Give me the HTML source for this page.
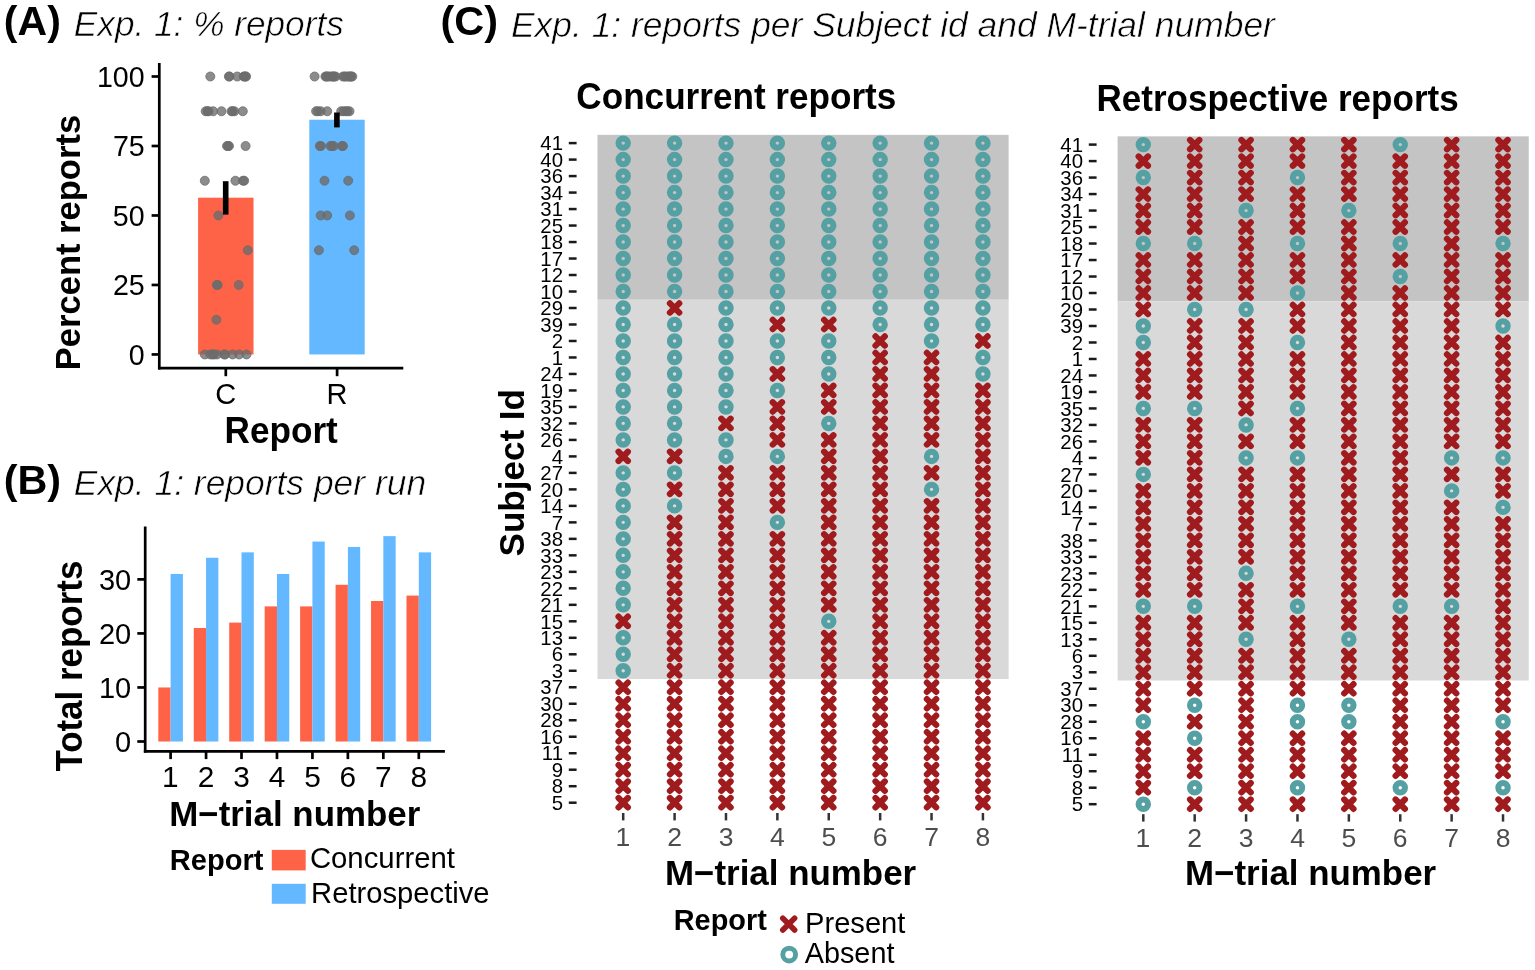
<!DOCTYPE html>
<html><head><meta charset="utf-8"><title>Exp. 1 reports</title>
<style>
html,body{margin:0;padding:0;background:#fff;}
body{width:1535px;height:970px;overflow:hidden;}
svg{display:block;}
text{font-family:"Liberation Sans", Arial, Helvetica, sans-serif;}
</style></head>
<body>
<svg width="1535" height="970" viewBox="0 0 1535 970">
<rect width="1535" height="970" fill="#fff"/>
<text x="3.86" y="35.10" font-size="41" font-weight="bold" textLength="56.99" lengthAdjust="spacingAndGlyphs">(A)</text>
<text x="73.82" y="36.00" font-size="35.6" font-style="italic" textLength="270.00" lengthAdjust="spacingAndGlyphs" stroke="#fff" stroke-width="0.6">Exp. 1: % reports</text>
<rect x="198.10" y="197.69" width="55.40" height="156.76" fill="#FF6347"/>
<rect x="309.30" y="119.72" width="55.40" height="234.73" fill="#63B8FF"/>
<g fill="#6b6b6b" fill-opacity="0.78" stroke="#6b6b6b" stroke-opacity="0.78" stroke-width="1">
<circle cx="204.8" cy="354.45" r="4.5"/>
<circle cx="210.3" cy="354.45" r="4.5"/>
<circle cx="212.5" cy="354.45" r="4.5"/>
<circle cx="214.0" cy="354.45" r="4.5"/>
<circle cx="224.2" cy="354.45" r="4.5"/>
<circle cx="225.2" cy="354.45" r="4.5"/>
<circle cx="232.6" cy="354.45" r="4.5"/>
<circle cx="239.1" cy="354.45" r="4.5"/>
<circle cx="246.5" cy="354.45" r="4.5"/>
<circle cx="217.0" cy="354.45" r="4.5"/>
<circle cx="216.4" cy="319.71" r="4.5"/>
<circle cx="216.8" cy="284.96" r="4.5"/>
<circle cx="217.7" cy="284.96" r="4.5"/>
<circle cx="238.7" cy="284.96" r="4.5"/>
<circle cx="247.8" cy="250.22" r="4.5"/>
<circle cx="218.3" cy="215.47" r="4.5"/>
<circle cx="204.8" cy="180.73" r="4.5"/>
<circle cx="235.4" cy="180.73" r="4.5"/>
<circle cx="243.0" cy="180.73" r="4.5"/>
<circle cx="244.2" cy="180.73" r="4.5"/>
<circle cx="227.0" cy="145.99" r="4.5"/>
<circle cx="229.0" cy="145.99" r="4.5"/>
<circle cx="245.6" cy="145.99" r="4.5"/>
<circle cx="228.0" cy="145.99" r="4.5"/>
<circle cx="205.7" cy="111.24" r="4.5"/>
<circle cx="207.5" cy="111.24" r="4.5"/>
<circle cx="213.1" cy="111.24" r="4.5"/>
<circle cx="221.5" cy="111.24" r="4.5"/>
<circle cx="232.6" cy="111.24" r="4.5"/>
<circle cx="234.4" cy="111.24" r="4.5"/>
<circle cx="242.8" cy="111.24" r="4.5"/>
<circle cx="231.5" cy="111.24" r="4.5"/>
<circle cx="208.5" cy="111.24" r="4.5"/>
<circle cx="210.3" cy="76.50" r="4.5"/>
<circle cx="228.9" cy="76.50" r="4.5"/>
<circle cx="237.2" cy="76.50" r="4.5"/>
<circle cx="243.7" cy="76.50" r="4.5"/>
<circle cx="245.6" cy="76.50" r="4.5"/>
<circle cx="244.5" cy="76.50" r="4.5"/>
<circle cx="229.5" cy="76.50" r="4.5"/>
<circle cx="246.0" cy="76.50" r="4.5"/>
<circle cx="314.6" cy="76.50" r="4.5"/>
<circle cx="325.4" cy="76.50" r="4.5"/>
<circle cx="327.0" cy="76.50" r="4.5"/>
<circle cx="332.8" cy="76.50" r="4.5"/>
<circle cx="335.6" cy="76.50" r="4.5"/>
<circle cx="343.0" cy="76.50" r="4.5"/>
<circle cx="349.5" cy="76.50" r="4.5"/>
<circle cx="352.3" cy="76.50" r="4.5"/>
<circle cx="326.5" cy="76.50" r="4.5"/>
<circle cx="331.0" cy="76.50" r="4.5"/>
<circle cx="334.0" cy="76.50" r="4.5"/>
<circle cx="344.5" cy="76.50" r="4.5"/>
<circle cx="348.0" cy="76.50" r="4.5"/>
<circle cx="350.5" cy="76.50" r="4.5"/>
<circle cx="329.0" cy="76.50" r="4.5"/>
<circle cx="333.5" cy="76.50" r="4.5"/>
<circle cx="346.0" cy="76.50" r="4.5"/>
<circle cx="351.0" cy="76.50" r="4.5"/>
<circle cx="316.1" cy="111.24" r="4.5"/>
<circle cx="320.7" cy="111.24" r="4.5"/>
<circle cx="327.2" cy="111.24" r="4.5"/>
<circle cx="341.2" cy="111.24" r="4.5"/>
<circle cx="345.8" cy="111.24" r="4.5"/>
<circle cx="349.5" cy="111.24" r="4.5"/>
<circle cx="318.0" cy="111.24" r="4.5"/>
<circle cx="343.5" cy="111.24" r="4.5"/>
<circle cx="347.5" cy="111.24" r="4.5"/>
<circle cx="319.8" cy="145.99" r="4.5"/>
<circle cx="331.9" cy="145.99" r="4.5"/>
<circle cx="333.7" cy="145.99" r="4.5"/>
<circle cx="343.0" cy="145.99" r="4.5"/>
<circle cx="321.0" cy="145.99" r="4.5"/>
<circle cx="330.5" cy="145.99" r="4.5"/>
<circle cx="342.0" cy="145.99" r="4.5"/>
<circle cx="324.5" cy="180.73" r="4.5"/>
<circle cx="348.2" cy="180.73" r="4.5"/>
<circle cx="320.7" cy="215.47" r="4.5"/>
<circle cx="327.2" cy="215.47" r="4.5"/>
<circle cx="349.9" cy="215.47" r="4.5"/>
<circle cx="318.9" cy="250.22" r="4.5"/>
<circle cx="354.2" cy="250.22" r="4.5"/>
</g>
<rect x="222.90" y="181.20" width="5.60" height="33.40" fill="#000"/>
<rect x="334.10" y="112.50" width="5.60" height="14.90" fill="#000"/>
<line x1="159.30" y1="63.10" x2="159.30" y2="369.55" stroke="#000" stroke-width="2.7" stroke-linecap="butt"/>
<line x1="157.95" y1="368.20" x2="403.30" y2="368.20" stroke="#000" stroke-width="2.7" stroke-linecap="butt"/>
<line x1="151.60" y1="354.45" x2="159.30" y2="354.45" stroke="#000" stroke-width="2.7" stroke-linecap="butt"/>
<text x="128.71" y="364.95" font-size="28.6">0</text>
<line x1="151.60" y1="284.96" x2="159.30" y2="284.96" stroke="#000" stroke-width="2.7" stroke-linecap="butt"/>
<text x="112.89" y="295.46" font-size="28.6">25</text>
<line x1="151.60" y1="215.47" x2="159.30" y2="215.47" stroke="#000" stroke-width="2.7" stroke-linecap="butt"/>
<text x="112.81" y="225.97" font-size="28.6">50</text>
<line x1="151.60" y1="145.99" x2="159.30" y2="145.99" stroke="#000" stroke-width="2.7" stroke-linecap="butt"/>
<text x="112.89" y="156.49" font-size="28.6">75</text>
<line x1="151.60" y1="76.50" x2="159.30" y2="76.50" stroke="#000" stroke-width="2.7" stroke-linecap="butt"/>
<text x="96.90" y="87.00" font-size="28.6">100</text>
<line x1="225.80" y1="368.20" x2="225.80" y2="376.20" stroke="#000" stroke-width="2.7" stroke-linecap="butt"/>
<line x1="337.10" y1="368.20" x2="337.10" y2="376.20" stroke="#000" stroke-width="2.7" stroke-linecap="butt"/>
<text x="215.14" y="403.60" font-size="29">C</text>
<text x="326.46" y="403.60" font-size="29">R</text>
<text x="224.55" y="443.40" font-size="36.3" font-weight="bold" textLength="113.28" lengthAdjust="spacingAndGlyphs">Report</text>
<text x="80.40" y="370.21" font-size="35.8" font-weight="bold" textLength="255.33" lengthAdjust="spacingAndGlyphs" transform="rotate(-90 80.40 370.21)">Percent reports</text>
<text x="3.74" y="494.10" font-size="41.5" font-weight="bold" textLength="57.42" lengthAdjust="spacingAndGlyphs">(B)</text>
<text x="73.81" y="494.80" font-size="35.6" font-style="italic" textLength="352.30" lengthAdjust="spacingAndGlyphs" stroke="#fff" stroke-width="0.6">Exp. 1: reports per run</text>
<rect x="158.30" y="687.46" width="12.30" height="54.04" fill="#FF6347"/>
<rect x="170.60" y="573.98" width="12.30" height="167.52" fill="#63B8FF"/>
<rect x="193.76" y="628.02" width="12.30" height="113.48" fill="#FF6347"/>
<rect x="206.06" y="557.76" width="12.30" height="183.74" fill="#63B8FF"/>
<rect x="229.21" y="622.61" width="12.30" height="118.89" fill="#FF6347"/>
<rect x="241.51" y="552.36" width="12.30" height="189.14" fill="#63B8FF"/>
<rect x="264.67" y="606.40" width="12.30" height="135.10" fill="#FF6347"/>
<rect x="276.97" y="573.98" width="12.30" height="167.52" fill="#63B8FF"/>
<rect x="300.13" y="606.40" width="12.30" height="135.10" fill="#FF6347"/>
<rect x="312.43" y="541.55" width="12.30" height="199.95" fill="#63B8FF"/>
<rect x="335.58" y="584.78" width="12.30" height="156.72" fill="#FF6347"/>
<rect x="347.88" y="546.96" width="12.30" height="194.54" fill="#63B8FF"/>
<rect x="371.04" y="601.00" width="12.30" height="140.50" fill="#FF6347"/>
<rect x="383.34" y="536.15" width="12.30" height="205.35" fill="#63B8FF"/>
<rect x="406.50" y="595.59" width="12.30" height="145.91" fill="#FF6347"/>
<rect x="418.80" y="552.36" width="12.30" height="189.14" fill="#63B8FF"/>
<line x1="145.20" y1="526.50" x2="145.20" y2="752.65" stroke="#000" stroke-width="2.7" stroke-linecap="butt"/>
<line x1="143.85" y1="751.30" x2="444.90" y2="751.30" stroke="#000" stroke-width="2.7" stroke-linecap="butt"/>
<line x1="137.30" y1="741.50" x2="145.20" y2="741.50" stroke="#000" stroke-width="2.7" stroke-linecap="butt"/>
<text x="115.00" y="752.30" font-size="29">0</text>
<line x1="137.30" y1="687.46" x2="145.20" y2="687.46" stroke="#000" stroke-width="2.7" stroke-linecap="butt"/>
<text x="98.88" y="698.26" font-size="29">10</text>
<line x1="137.30" y1="633.42" x2="145.20" y2="633.42" stroke="#000" stroke-width="2.7" stroke-linecap="butt"/>
<text x="98.88" y="644.22" font-size="29">20</text>
<line x1="137.30" y1="579.38" x2="145.20" y2="579.38" stroke="#000" stroke-width="2.7" stroke-linecap="butt"/>
<text x="98.88" y="590.18" font-size="29">30</text>
<line x1="170.60" y1="751.30" x2="170.60" y2="759.10" stroke="#000" stroke-width="2.7" stroke-linecap="butt"/>
<text x="161.91" y="787.20" font-size="29.8">1</text>
<line x1="206.06" y1="751.30" x2="206.06" y2="759.10" stroke="#000" stroke-width="2.7" stroke-linecap="butt"/>
<text x="197.77" y="787.20" font-size="29.8">2</text>
<line x1="241.51" y1="751.30" x2="241.51" y2="759.10" stroke="#000" stroke-width="2.7" stroke-linecap="butt"/>
<text x="233.31" y="787.20" font-size="29.8">3</text>
<line x1="276.97" y1="751.30" x2="276.97" y2="759.10" stroke="#000" stroke-width="2.7" stroke-linecap="butt"/>
<text x="268.78" y="787.20" font-size="29.8">4</text>
<line x1="312.43" y1="751.30" x2="312.43" y2="759.10" stroke="#000" stroke-width="2.7" stroke-linecap="butt"/>
<text x="304.17" y="787.20" font-size="29.8">5</text>
<line x1="347.88" y1="751.30" x2="347.88" y2="759.10" stroke="#000" stroke-width="2.7" stroke-linecap="butt"/>
<text x="339.50" y="787.20" font-size="29.8">6</text>
<line x1="383.34" y1="751.30" x2="383.34" y2="759.10" stroke="#000" stroke-width="2.7" stroke-linecap="butt"/>
<text x="375.04" y="787.20" font-size="29.8">7</text>
<line x1="418.80" y1="751.30" x2="418.80" y2="759.10" stroke="#000" stroke-width="2.7" stroke-linecap="butt"/>
<text x="410.51" y="787.20" font-size="29.8">8</text>
<text x="169.27" y="826.00" font-size="35.6" font-weight="bold" textLength="250.96" lengthAdjust="spacingAndGlyphs">M−trial number</text>
<text x="82.50" y="771.59" font-size="36" font-weight="bold" textLength="210.90" lengthAdjust="spacingAndGlyphs" transform="rotate(-90 82.50 771.59)">Total reports</text>
<text x="169.86" y="870.20" font-size="30.3" font-weight="bold" textLength="93.50" lengthAdjust="spacingAndGlyphs">Report</text>
<rect x="271.80" y="849.90" width="33.90" height="20.50" fill="#FF6347"/>
<rect x="271.80" y="883.80" width="33.90" height="20.00" fill="#63B8FF"/>
<text x="309.91" y="867.80" font-size="29" textLength="145.00" lengthAdjust="spacingAndGlyphs">Concurrent</text>
<text x="311.11" y="903.30" font-size="29" textLength="178.49" lengthAdjust="spacingAndGlyphs">Retrospective</text>
<text x="440.44" y="35.10" font-size="41" font-weight="bold" textLength="57.53" lengthAdjust="spacingAndGlyphs">(C)</text>
<text x="510.91" y="36.60" font-size="35.6" font-style="italic" textLength="764.00" lengthAdjust="spacingAndGlyphs" stroke="#fff" stroke-width="0.6">Exp. 1: reports per Subject id and M-trial number</text>
<text x="576.36" y="109.40" font-size="36.4" font-weight="bold" textLength="319.98" lengthAdjust="spacingAndGlyphs">Concurrent reports</text>
<text x="1096.46" y="111.10" font-size="36.4" font-weight="bold" textLength="362.28" lengthAdjust="spacingAndGlyphs">Retrospective reports</text>
<defs><g id="mx"><path d="M-4.65,-4.65L4.65,4.65M-4.65,4.65L4.65,-4.65" stroke="#a01b1e" stroke-width="6.2" stroke-linecap="round" fill="none"/></g><g id="mo"><circle r="4.7" fill="none" stroke="#55a0a2" stroke-width="6.05"/></g></defs>
<rect x="597.50" y="134.85" width="411.12" height="164.90" fill="#c4c4c4"/>
<rect x="597.50" y="299.75" width="411.12" height="379.27" fill="#d9d9d9"/>
<use href="#mo" x="623.20" y="143.10"/>
<use href="#mo" x="674.59" y="143.10"/>
<use href="#mo" x="725.98" y="143.10"/>
<use href="#mo" x="777.37" y="143.10"/>
<use href="#mo" x="828.76" y="143.10"/>
<use href="#mo" x="880.15" y="143.10"/>
<use href="#mo" x="931.54" y="143.10"/>
<use href="#mo" x="982.93" y="143.10"/>
<text x="563.00" y="150.30" font-size="20.4" text-anchor="end">41</text>
<line x1="568.80" y1="143.10" x2="576.60" y2="143.10" stroke="#1a1a1a" stroke-width="2.5" stroke-linecap="butt"/>
<use href="#mo" x="623.20" y="159.59"/>
<use href="#mo" x="674.59" y="159.59"/>
<use href="#mo" x="725.98" y="159.59"/>
<use href="#mo" x="777.37" y="159.59"/>
<use href="#mo" x="828.76" y="159.59"/>
<use href="#mo" x="880.15" y="159.59"/>
<use href="#mo" x="931.54" y="159.59"/>
<use href="#mo" x="982.93" y="159.59"/>
<text x="563.00" y="166.79" font-size="20.4" text-anchor="end">40</text>
<line x1="568.80" y1="159.59" x2="576.60" y2="159.59" stroke="#1a1a1a" stroke-width="2.5" stroke-linecap="butt"/>
<use href="#mo" x="623.20" y="176.08"/>
<use href="#mo" x="674.59" y="176.08"/>
<use href="#mo" x="725.98" y="176.08"/>
<use href="#mo" x="777.37" y="176.08"/>
<use href="#mo" x="828.76" y="176.08"/>
<use href="#mo" x="880.15" y="176.08"/>
<use href="#mo" x="931.54" y="176.08"/>
<use href="#mo" x="982.93" y="176.08"/>
<text x="563.00" y="183.28" font-size="20.4" text-anchor="end">36</text>
<line x1="568.80" y1="176.08" x2="576.60" y2="176.08" stroke="#1a1a1a" stroke-width="2.5" stroke-linecap="butt"/>
<use href="#mo" x="623.20" y="192.57"/>
<use href="#mo" x="674.59" y="192.57"/>
<use href="#mo" x="725.98" y="192.57"/>
<use href="#mo" x="777.37" y="192.57"/>
<use href="#mo" x="828.76" y="192.57"/>
<use href="#mo" x="880.15" y="192.57"/>
<use href="#mo" x="931.54" y="192.57"/>
<use href="#mo" x="982.93" y="192.57"/>
<text x="563.00" y="199.77" font-size="20.4" text-anchor="end">34</text>
<line x1="568.80" y1="192.57" x2="576.60" y2="192.57" stroke="#1a1a1a" stroke-width="2.5" stroke-linecap="butt"/>
<use href="#mo" x="623.20" y="209.06"/>
<use href="#mo" x="674.59" y="209.06"/>
<use href="#mo" x="725.98" y="209.06"/>
<use href="#mo" x="777.37" y="209.06"/>
<use href="#mo" x="828.76" y="209.06"/>
<use href="#mo" x="880.15" y="209.06"/>
<use href="#mo" x="931.54" y="209.06"/>
<use href="#mo" x="982.93" y="209.06"/>
<text x="563.00" y="216.26" font-size="20.4" text-anchor="end">31</text>
<line x1="568.80" y1="209.06" x2="576.60" y2="209.06" stroke="#1a1a1a" stroke-width="2.5" stroke-linecap="butt"/>
<use href="#mo" x="623.20" y="225.55"/>
<use href="#mo" x="674.59" y="225.55"/>
<use href="#mo" x="725.98" y="225.55"/>
<use href="#mo" x="777.37" y="225.55"/>
<use href="#mo" x="828.76" y="225.55"/>
<use href="#mo" x="880.15" y="225.55"/>
<use href="#mo" x="931.54" y="225.55"/>
<use href="#mo" x="982.93" y="225.55"/>
<text x="563.00" y="232.75" font-size="20.4" text-anchor="end">25</text>
<line x1="568.80" y1="225.55" x2="576.60" y2="225.55" stroke="#1a1a1a" stroke-width="2.5" stroke-linecap="butt"/>
<use href="#mo" x="623.20" y="242.04"/>
<use href="#mo" x="674.59" y="242.04"/>
<use href="#mo" x="725.98" y="242.04"/>
<use href="#mo" x="777.37" y="242.04"/>
<use href="#mo" x="828.76" y="242.04"/>
<use href="#mo" x="880.15" y="242.04"/>
<use href="#mo" x="931.54" y="242.04"/>
<use href="#mo" x="982.93" y="242.04"/>
<text x="563.00" y="249.24" font-size="20.4" text-anchor="end">18</text>
<line x1="568.80" y1="242.04" x2="576.60" y2="242.04" stroke="#1a1a1a" stroke-width="2.5" stroke-linecap="butt"/>
<use href="#mo" x="623.20" y="258.53"/>
<use href="#mo" x="674.59" y="258.53"/>
<use href="#mo" x="725.98" y="258.53"/>
<use href="#mo" x="777.37" y="258.53"/>
<use href="#mo" x="828.76" y="258.53"/>
<use href="#mo" x="880.15" y="258.53"/>
<use href="#mo" x="931.54" y="258.53"/>
<use href="#mo" x="982.93" y="258.53"/>
<text x="563.00" y="265.73" font-size="20.4" text-anchor="end">17</text>
<line x1="568.80" y1="258.53" x2="576.60" y2="258.53" stroke="#1a1a1a" stroke-width="2.5" stroke-linecap="butt"/>
<use href="#mo" x="623.20" y="275.02"/>
<use href="#mo" x="674.59" y="275.02"/>
<use href="#mo" x="725.98" y="275.02"/>
<use href="#mo" x="777.37" y="275.02"/>
<use href="#mo" x="828.76" y="275.02"/>
<use href="#mo" x="880.15" y="275.02"/>
<use href="#mo" x="931.54" y="275.02"/>
<use href="#mo" x="982.93" y="275.02"/>
<text x="563.00" y="282.22" font-size="20.4" text-anchor="end">12</text>
<line x1="568.80" y1="275.02" x2="576.60" y2="275.02" stroke="#1a1a1a" stroke-width="2.5" stroke-linecap="butt"/>
<use href="#mo" x="623.20" y="291.51"/>
<use href="#mo" x="674.59" y="291.51"/>
<use href="#mo" x="725.98" y="291.51"/>
<use href="#mo" x="777.37" y="291.51"/>
<use href="#mo" x="828.76" y="291.51"/>
<use href="#mo" x="880.15" y="291.51"/>
<use href="#mo" x="931.54" y="291.51"/>
<use href="#mo" x="982.93" y="291.51"/>
<text x="563.00" y="298.71" font-size="20.4" text-anchor="end">10</text>
<line x1="568.80" y1="291.51" x2="576.60" y2="291.51" stroke="#1a1a1a" stroke-width="2.5" stroke-linecap="butt"/>
<use href="#mo" x="623.20" y="308.00"/>
<use href="#mx" x="674.59" y="308.00"/>
<use href="#mo" x="725.98" y="308.00"/>
<use href="#mo" x="777.37" y="308.00"/>
<use href="#mo" x="828.76" y="308.00"/>
<use href="#mo" x="880.15" y="308.00"/>
<use href="#mo" x="931.54" y="308.00"/>
<use href="#mo" x="982.93" y="308.00"/>
<text x="563.00" y="315.20" font-size="20.4" text-anchor="end">29</text>
<line x1="568.80" y1="308.00" x2="576.60" y2="308.00" stroke="#1a1a1a" stroke-width="2.5" stroke-linecap="butt"/>
<use href="#mo" x="623.20" y="324.49"/>
<use href="#mo" x="674.59" y="324.49"/>
<use href="#mo" x="725.98" y="324.49"/>
<use href="#mx" x="777.37" y="324.49"/>
<use href="#mx" x="828.76" y="324.49"/>
<use href="#mo" x="880.15" y="324.49"/>
<use href="#mo" x="931.54" y="324.49"/>
<use href="#mo" x="982.93" y="324.49"/>
<text x="563.00" y="331.69" font-size="20.4" text-anchor="end">39</text>
<line x1="568.80" y1="324.49" x2="576.60" y2="324.49" stroke="#1a1a1a" stroke-width="2.5" stroke-linecap="butt"/>
<use href="#mo" x="623.20" y="340.98"/>
<use href="#mo" x="674.59" y="340.98"/>
<use href="#mo" x="725.98" y="340.98"/>
<use href="#mo" x="777.37" y="340.98"/>
<use href="#mo" x="828.76" y="340.98"/>
<use href="#mx" x="880.15" y="340.98"/>
<use href="#mo" x="931.54" y="340.98"/>
<use href="#mx" x="982.93" y="340.98"/>
<text x="563.00" y="348.18" font-size="20.4" text-anchor="end">2</text>
<line x1="568.80" y1="340.98" x2="576.60" y2="340.98" stroke="#1a1a1a" stroke-width="2.5" stroke-linecap="butt"/>
<use href="#mo" x="623.20" y="357.47"/>
<use href="#mo" x="674.59" y="357.47"/>
<use href="#mo" x="725.98" y="357.47"/>
<use href="#mo" x="777.37" y="357.47"/>
<use href="#mo" x="828.76" y="357.47"/>
<use href="#mx" x="880.15" y="357.47"/>
<use href="#mx" x="931.54" y="357.47"/>
<use href="#mo" x="982.93" y="357.47"/>
<text x="563.00" y="364.67" font-size="20.4" text-anchor="end">1</text>
<line x1="568.80" y1="357.47" x2="576.60" y2="357.47" stroke="#1a1a1a" stroke-width="2.5" stroke-linecap="butt"/>
<use href="#mo" x="623.20" y="373.96"/>
<use href="#mo" x="674.59" y="373.96"/>
<use href="#mo" x="725.98" y="373.96"/>
<use href="#mx" x="777.37" y="373.96"/>
<use href="#mo" x="828.76" y="373.96"/>
<use href="#mx" x="880.15" y="373.96"/>
<use href="#mx" x="931.54" y="373.96"/>
<use href="#mo" x="982.93" y="373.96"/>
<text x="563.00" y="381.16" font-size="20.4" text-anchor="end">24</text>
<line x1="568.80" y1="373.96" x2="576.60" y2="373.96" stroke="#1a1a1a" stroke-width="2.5" stroke-linecap="butt"/>
<use href="#mo" x="623.20" y="390.45"/>
<use href="#mo" x="674.59" y="390.45"/>
<use href="#mo" x="725.98" y="390.45"/>
<use href="#mo" x="777.37" y="390.45"/>
<use href="#mx" x="828.76" y="390.45"/>
<use href="#mx" x="880.15" y="390.45"/>
<use href="#mx" x="931.54" y="390.45"/>
<use href="#mx" x="982.93" y="390.45"/>
<text x="563.00" y="397.65" font-size="20.4" text-anchor="end">19</text>
<line x1="568.80" y1="390.45" x2="576.60" y2="390.45" stroke="#1a1a1a" stroke-width="2.5" stroke-linecap="butt"/>
<use href="#mo" x="623.20" y="406.94"/>
<use href="#mo" x="674.59" y="406.94"/>
<use href="#mo" x="725.98" y="406.94"/>
<use href="#mx" x="777.37" y="406.94"/>
<use href="#mx" x="828.76" y="406.94"/>
<use href="#mx" x="880.15" y="406.94"/>
<use href="#mx" x="931.54" y="406.94"/>
<use href="#mx" x="982.93" y="406.94"/>
<text x="563.00" y="414.14" font-size="20.4" text-anchor="end">35</text>
<line x1="568.80" y1="406.94" x2="576.60" y2="406.94" stroke="#1a1a1a" stroke-width="2.5" stroke-linecap="butt"/>
<use href="#mo" x="623.20" y="423.43"/>
<use href="#mo" x="674.59" y="423.43"/>
<use href="#mx" x="725.98" y="423.43"/>
<use href="#mx" x="777.37" y="423.43"/>
<use href="#mo" x="828.76" y="423.43"/>
<use href="#mx" x="880.15" y="423.43"/>
<use href="#mx" x="931.54" y="423.43"/>
<use href="#mx" x="982.93" y="423.43"/>
<text x="563.00" y="430.63" font-size="20.4" text-anchor="end">32</text>
<line x1="568.80" y1="423.43" x2="576.60" y2="423.43" stroke="#1a1a1a" stroke-width="2.5" stroke-linecap="butt"/>
<use href="#mo" x="623.20" y="439.92"/>
<use href="#mo" x="674.59" y="439.92"/>
<use href="#mo" x="725.98" y="439.92"/>
<use href="#mx" x="777.37" y="439.92"/>
<use href="#mx" x="828.76" y="439.92"/>
<use href="#mx" x="880.15" y="439.92"/>
<use href="#mx" x="931.54" y="439.92"/>
<use href="#mx" x="982.93" y="439.92"/>
<text x="563.00" y="447.12" font-size="20.4" text-anchor="end">26</text>
<line x1="568.80" y1="439.92" x2="576.60" y2="439.92" stroke="#1a1a1a" stroke-width="2.5" stroke-linecap="butt"/>
<use href="#mx" x="623.20" y="456.41"/>
<use href="#mx" x="674.59" y="456.41"/>
<use href="#mo" x="725.98" y="456.41"/>
<use href="#mo" x="777.37" y="456.41"/>
<use href="#mx" x="828.76" y="456.41"/>
<use href="#mx" x="880.15" y="456.41"/>
<use href="#mo" x="931.54" y="456.41"/>
<use href="#mx" x="982.93" y="456.41"/>
<text x="563.00" y="463.61" font-size="20.4" text-anchor="end">4</text>
<line x1="568.80" y1="456.41" x2="576.60" y2="456.41" stroke="#1a1a1a" stroke-width="2.5" stroke-linecap="butt"/>
<use href="#mo" x="623.20" y="472.90"/>
<use href="#mo" x="674.59" y="472.90"/>
<use href="#mx" x="725.98" y="472.90"/>
<use href="#mx" x="777.37" y="472.90"/>
<use href="#mx" x="828.76" y="472.90"/>
<use href="#mx" x="880.15" y="472.90"/>
<use href="#mx" x="931.54" y="472.90"/>
<use href="#mx" x="982.93" y="472.90"/>
<text x="563.00" y="480.10" font-size="20.4" text-anchor="end">27</text>
<line x1="568.80" y1="472.90" x2="576.60" y2="472.90" stroke="#1a1a1a" stroke-width="2.5" stroke-linecap="butt"/>
<use href="#mo" x="623.20" y="489.39"/>
<use href="#mx" x="674.59" y="489.39"/>
<use href="#mx" x="725.98" y="489.39"/>
<use href="#mx" x="777.37" y="489.39"/>
<use href="#mx" x="828.76" y="489.39"/>
<use href="#mx" x="880.15" y="489.39"/>
<use href="#mo" x="931.54" y="489.39"/>
<use href="#mx" x="982.93" y="489.39"/>
<text x="563.00" y="496.59" font-size="20.4" text-anchor="end">20</text>
<line x1="568.80" y1="489.39" x2="576.60" y2="489.39" stroke="#1a1a1a" stroke-width="2.5" stroke-linecap="butt"/>
<use href="#mo" x="623.20" y="505.88"/>
<use href="#mo" x="674.59" y="505.88"/>
<use href="#mx" x="725.98" y="505.88"/>
<use href="#mx" x="777.37" y="505.88"/>
<use href="#mx" x="828.76" y="505.88"/>
<use href="#mx" x="880.15" y="505.88"/>
<use href="#mx" x="931.54" y="505.88"/>
<use href="#mx" x="982.93" y="505.88"/>
<text x="563.00" y="513.08" font-size="20.4" text-anchor="end">14</text>
<line x1="568.80" y1="505.88" x2="576.60" y2="505.88" stroke="#1a1a1a" stroke-width="2.5" stroke-linecap="butt"/>
<use href="#mo" x="623.20" y="522.37"/>
<use href="#mx" x="674.59" y="522.37"/>
<use href="#mx" x="725.98" y="522.37"/>
<use href="#mo" x="777.37" y="522.37"/>
<use href="#mx" x="828.76" y="522.37"/>
<use href="#mx" x="880.15" y="522.37"/>
<use href="#mx" x="931.54" y="522.37"/>
<use href="#mx" x="982.93" y="522.37"/>
<text x="563.00" y="529.57" font-size="20.4" text-anchor="end">7</text>
<line x1="568.80" y1="522.37" x2="576.60" y2="522.37" stroke="#1a1a1a" stroke-width="2.5" stroke-linecap="butt"/>
<use href="#mo" x="623.20" y="538.86"/>
<use href="#mx" x="674.59" y="538.86"/>
<use href="#mx" x="725.98" y="538.86"/>
<use href="#mx" x="777.37" y="538.86"/>
<use href="#mx" x="828.76" y="538.86"/>
<use href="#mx" x="880.15" y="538.86"/>
<use href="#mx" x="931.54" y="538.86"/>
<use href="#mx" x="982.93" y="538.86"/>
<text x="563.00" y="546.06" font-size="20.4" text-anchor="end">38</text>
<line x1="568.80" y1="538.86" x2="576.60" y2="538.86" stroke="#1a1a1a" stroke-width="2.5" stroke-linecap="butt"/>
<use href="#mo" x="623.20" y="555.35"/>
<use href="#mx" x="674.59" y="555.35"/>
<use href="#mx" x="725.98" y="555.35"/>
<use href="#mx" x="777.37" y="555.35"/>
<use href="#mx" x="828.76" y="555.35"/>
<use href="#mx" x="880.15" y="555.35"/>
<use href="#mx" x="931.54" y="555.35"/>
<use href="#mx" x="982.93" y="555.35"/>
<text x="563.00" y="562.55" font-size="20.4" text-anchor="end">33</text>
<line x1="568.80" y1="555.35" x2="576.60" y2="555.35" stroke="#1a1a1a" stroke-width="2.5" stroke-linecap="butt"/>
<use href="#mo" x="623.20" y="571.84"/>
<use href="#mx" x="674.59" y="571.84"/>
<use href="#mx" x="725.98" y="571.84"/>
<use href="#mx" x="777.37" y="571.84"/>
<use href="#mx" x="828.76" y="571.84"/>
<use href="#mx" x="880.15" y="571.84"/>
<use href="#mx" x="931.54" y="571.84"/>
<use href="#mx" x="982.93" y="571.84"/>
<text x="563.00" y="579.04" font-size="20.4" text-anchor="end">23</text>
<line x1="568.80" y1="571.84" x2="576.60" y2="571.84" stroke="#1a1a1a" stroke-width="2.5" stroke-linecap="butt"/>
<use href="#mo" x="623.20" y="588.33"/>
<use href="#mx" x="674.59" y="588.33"/>
<use href="#mx" x="725.98" y="588.33"/>
<use href="#mx" x="777.37" y="588.33"/>
<use href="#mx" x="828.76" y="588.33"/>
<use href="#mx" x="880.15" y="588.33"/>
<use href="#mx" x="931.54" y="588.33"/>
<use href="#mx" x="982.93" y="588.33"/>
<text x="563.00" y="595.53" font-size="20.4" text-anchor="end">22</text>
<line x1="568.80" y1="588.33" x2="576.60" y2="588.33" stroke="#1a1a1a" stroke-width="2.5" stroke-linecap="butt"/>
<use href="#mo" x="623.20" y="604.82"/>
<use href="#mx" x="674.59" y="604.82"/>
<use href="#mx" x="725.98" y="604.82"/>
<use href="#mx" x="777.37" y="604.82"/>
<use href="#mx" x="828.76" y="604.82"/>
<use href="#mx" x="880.15" y="604.82"/>
<use href="#mx" x="931.54" y="604.82"/>
<use href="#mx" x="982.93" y="604.82"/>
<text x="563.00" y="612.02" font-size="20.4" text-anchor="end">21</text>
<line x1="568.80" y1="604.82" x2="576.60" y2="604.82" stroke="#1a1a1a" stroke-width="2.5" stroke-linecap="butt"/>
<use href="#mx" x="623.20" y="621.31"/>
<use href="#mx" x="674.59" y="621.31"/>
<use href="#mx" x="725.98" y="621.31"/>
<use href="#mx" x="777.37" y="621.31"/>
<use href="#mo" x="828.76" y="621.31"/>
<use href="#mx" x="880.15" y="621.31"/>
<use href="#mx" x="931.54" y="621.31"/>
<use href="#mx" x="982.93" y="621.31"/>
<text x="563.00" y="628.51" font-size="20.4" text-anchor="end">15</text>
<line x1="568.80" y1="621.31" x2="576.60" y2="621.31" stroke="#1a1a1a" stroke-width="2.5" stroke-linecap="butt"/>
<use href="#mo" x="623.20" y="637.80"/>
<use href="#mx" x="674.59" y="637.80"/>
<use href="#mx" x="725.98" y="637.80"/>
<use href="#mx" x="777.37" y="637.80"/>
<use href="#mx" x="828.76" y="637.80"/>
<use href="#mx" x="880.15" y="637.80"/>
<use href="#mx" x="931.54" y="637.80"/>
<use href="#mx" x="982.93" y="637.80"/>
<text x="563.00" y="645.00" font-size="20.4" text-anchor="end">13</text>
<line x1="568.80" y1="637.80" x2="576.60" y2="637.80" stroke="#1a1a1a" stroke-width="2.5" stroke-linecap="butt"/>
<use href="#mo" x="623.20" y="654.29"/>
<use href="#mx" x="674.59" y="654.29"/>
<use href="#mx" x="725.98" y="654.29"/>
<use href="#mx" x="777.37" y="654.29"/>
<use href="#mx" x="828.76" y="654.29"/>
<use href="#mx" x="880.15" y="654.29"/>
<use href="#mx" x="931.54" y="654.29"/>
<use href="#mx" x="982.93" y="654.29"/>
<text x="563.00" y="661.49" font-size="20.4" text-anchor="end">6</text>
<line x1="568.80" y1="654.29" x2="576.60" y2="654.29" stroke="#1a1a1a" stroke-width="2.5" stroke-linecap="butt"/>
<use href="#mo" x="623.20" y="670.78"/>
<use href="#mx" x="674.59" y="670.78"/>
<use href="#mx" x="725.98" y="670.78"/>
<use href="#mx" x="777.37" y="670.78"/>
<use href="#mx" x="828.76" y="670.78"/>
<use href="#mx" x="880.15" y="670.78"/>
<use href="#mx" x="931.54" y="670.78"/>
<use href="#mx" x="982.93" y="670.78"/>
<text x="563.00" y="677.98" font-size="20.4" text-anchor="end">3</text>
<line x1="568.80" y1="670.78" x2="576.60" y2="670.78" stroke="#1a1a1a" stroke-width="2.5" stroke-linecap="butt"/>
<use href="#mx" x="623.20" y="687.27"/>
<use href="#mx" x="674.59" y="687.27"/>
<use href="#mx" x="725.98" y="687.27"/>
<use href="#mx" x="777.37" y="687.27"/>
<use href="#mx" x="828.76" y="687.27"/>
<use href="#mx" x="880.15" y="687.27"/>
<use href="#mx" x="931.54" y="687.27"/>
<use href="#mx" x="982.93" y="687.27"/>
<text x="563.00" y="694.47" font-size="20.4" text-anchor="end">37</text>
<line x1="568.80" y1="687.27" x2="576.60" y2="687.27" stroke="#1a1a1a" stroke-width="2.5" stroke-linecap="butt"/>
<use href="#mx" x="623.20" y="703.76"/>
<use href="#mx" x="674.59" y="703.76"/>
<use href="#mx" x="725.98" y="703.76"/>
<use href="#mx" x="777.37" y="703.76"/>
<use href="#mx" x="828.76" y="703.76"/>
<use href="#mx" x="880.15" y="703.76"/>
<use href="#mx" x="931.54" y="703.76"/>
<use href="#mx" x="982.93" y="703.76"/>
<text x="563.00" y="710.96" font-size="20.4" text-anchor="end">30</text>
<line x1="568.80" y1="703.76" x2="576.60" y2="703.76" stroke="#1a1a1a" stroke-width="2.5" stroke-linecap="butt"/>
<use href="#mx" x="623.20" y="720.25"/>
<use href="#mx" x="674.59" y="720.25"/>
<use href="#mx" x="725.98" y="720.25"/>
<use href="#mx" x="777.37" y="720.25"/>
<use href="#mx" x="828.76" y="720.25"/>
<use href="#mx" x="880.15" y="720.25"/>
<use href="#mx" x="931.54" y="720.25"/>
<use href="#mx" x="982.93" y="720.25"/>
<text x="563.00" y="727.45" font-size="20.4" text-anchor="end">28</text>
<line x1="568.80" y1="720.25" x2="576.60" y2="720.25" stroke="#1a1a1a" stroke-width="2.5" stroke-linecap="butt"/>
<use href="#mx" x="623.20" y="736.74"/>
<use href="#mx" x="674.59" y="736.74"/>
<use href="#mx" x="725.98" y="736.74"/>
<use href="#mx" x="777.37" y="736.74"/>
<use href="#mx" x="828.76" y="736.74"/>
<use href="#mx" x="880.15" y="736.74"/>
<use href="#mx" x="931.54" y="736.74"/>
<use href="#mx" x="982.93" y="736.74"/>
<text x="563.00" y="743.94" font-size="20.4" text-anchor="end">16</text>
<line x1="568.80" y1="736.74" x2="576.60" y2="736.74" stroke="#1a1a1a" stroke-width="2.5" stroke-linecap="butt"/>
<use href="#mx" x="623.20" y="753.23"/>
<use href="#mx" x="674.59" y="753.23"/>
<use href="#mx" x="725.98" y="753.23"/>
<use href="#mx" x="777.37" y="753.23"/>
<use href="#mx" x="828.76" y="753.23"/>
<use href="#mx" x="880.15" y="753.23"/>
<use href="#mx" x="931.54" y="753.23"/>
<use href="#mx" x="982.93" y="753.23"/>
<text x="563.00" y="760.43" font-size="20.4" text-anchor="end">11</text>
<line x1="568.80" y1="753.23" x2="576.60" y2="753.23" stroke="#1a1a1a" stroke-width="2.5" stroke-linecap="butt"/>
<use href="#mx" x="623.20" y="769.72"/>
<use href="#mx" x="674.59" y="769.72"/>
<use href="#mx" x="725.98" y="769.72"/>
<use href="#mx" x="777.37" y="769.72"/>
<use href="#mx" x="828.76" y="769.72"/>
<use href="#mx" x="880.15" y="769.72"/>
<use href="#mx" x="931.54" y="769.72"/>
<use href="#mx" x="982.93" y="769.72"/>
<text x="563.00" y="776.92" font-size="20.4" text-anchor="end">9</text>
<line x1="568.80" y1="769.72" x2="576.60" y2="769.72" stroke="#1a1a1a" stroke-width="2.5" stroke-linecap="butt"/>
<use href="#mx" x="623.20" y="786.21"/>
<use href="#mx" x="674.59" y="786.21"/>
<use href="#mx" x="725.98" y="786.21"/>
<use href="#mx" x="777.37" y="786.21"/>
<use href="#mx" x="828.76" y="786.21"/>
<use href="#mx" x="880.15" y="786.21"/>
<use href="#mx" x="931.54" y="786.21"/>
<use href="#mx" x="982.93" y="786.21"/>
<text x="563.00" y="793.41" font-size="20.4" text-anchor="end">8</text>
<line x1="568.80" y1="786.21" x2="576.60" y2="786.21" stroke="#1a1a1a" stroke-width="2.5" stroke-linecap="butt"/>
<use href="#mx" x="623.20" y="802.70"/>
<use href="#mx" x="674.59" y="802.70"/>
<use href="#mx" x="725.98" y="802.70"/>
<use href="#mx" x="777.37" y="802.70"/>
<use href="#mx" x="828.76" y="802.70"/>
<use href="#mx" x="880.15" y="802.70"/>
<use href="#mx" x="931.54" y="802.70"/>
<use href="#mx" x="982.93" y="802.70"/>
<text x="563.00" y="809.90" font-size="20.4" text-anchor="end">5</text>
<line x1="568.80" y1="802.70" x2="576.60" y2="802.70" stroke="#1a1a1a" stroke-width="2.5" stroke-linecap="butt"/>
<line x1="623.20" y1="813.00" x2="623.20" y2="820.40" stroke="#333" stroke-width="2.5" stroke-linecap="butt"/>
<text x="615.47" y="845.60" font-size="26.5" fill="#4d4d4d">1</text>
<line x1="674.59" y1="813.00" x2="674.59" y2="820.40" stroke="#333" stroke-width="2.5" stroke-linecap="butt"/>
<text x="667.22" y="845.60" font-size="26.5" fill="#4d4d4d">2</text>
<line x1="725.98" y1="813.00" x2="725.98" y2="820.40" stroke="#333" stroke-width="2.5" stroke-linecap="butt"/>
<text x="718.69" y="845.60" font-size="26.5" fill="#4d4d4d">3</text>
<line x1="777.37" y1="813.00" x2="777.37" y2="820.40" stroke="#333" stroke-width="2.5" stroke-linecap="butt"/>
<text x="770.09" y="845.60" font-size="26.5" fill="#4d4d4d">4</text>
<line x1="828.76" y1="813.00" x2="828.76" y2="820.40" stroke="#333" stroke-width="2.5" stroke-linecap="butt"/>
<text x="821.42" y="845.60" font-size="26.5" fill="#4d4d4d">5</text>
<line x1="880.15" y1="813.00" x2="880.15" y2="820.40" stroke="#333" stroke-width="2.5" stroke-linecap="butt"/>
<text x="872.69" y="845.60" font-size="26.5" fill="#4d4d4d">6</text>
<line x1="931.54" y1="813.00" x2="931.54" y2="820.40" stroke="#333" stroke-width="2.5" stroke-linecap="butt"/>
<text x="924.16" y="845.60" font-size="26.5" fill="#4d4d4d">7</text>
<line x1="982.93" y1="813.00" x2="982.93" y2="820.40" stroke="#333" stroke-width="2.5" stroke-linecap="butt"/>
<text x="975.56" y="845.60" font-size="26.5" fill="#4d4d4d">8</text>
<rect x="1117.61" y="136.35" width="411.12" height="164.90" fill="#c4c4c4"/>
<rect x="1117.61" y="301.25" width="411.12" height="379.27" fill="#d9d9d9"/>
<use href="#mo" x="1143.30" y="144.60"/>
<use href="#mx" x="1194.69" y="144.60"/>
<use href="#mx" x="1246.08" y="144.60"/>
<use href="#mx" x="1297.47" y="144.60"/>
<use href="#mx" x="1348.86" y="144.60"/>
<use href="#mo" x="1400.25" y="144.60"/>
<use href="#mx" x="1451.64" y="144.60"/>
<use href="#mx" x="1503.03" y="144.60"/>
<text x="1083.00" y="151.80" font-size="20.4" text-anchor="end">41</text>
<line x1="1088.80" y1="144.60" x2="1096.60" y2="144.60" stroke="#1a1a1a" stroke-width="2.5" stroke-linecap="butt"/>
<use href="#mx" x="1143.30" y="161.09"/>
<use href="#mx" x="1194.69" y="161.09"/>
<use href="#mx" x="1246.08" y="161.09"/>
<use href="#mx" x="1297.47" y="161.09"/>
<use href="#mx" x="1348.86" y="161.09"/>
<use href="#mx" x="1400.25" y="161.09"/>
<use href="#mx" x="1451.64" y="161.09"/>
<use href="#mx" x="1503.03" y="161.09"/>
<text x="1083.00" y="168.29" font-size="20.4" text-anchor="end">40</text>
<line x1="1088.80" y1="161.09" x2="1096.60" y2="161.09" stroke="#1a1a1a" stroke-width="2.5" stroke-linecap="butt"/>
<use href="#mo" x="1143.30" y="177.58"/>
<use href="#mx" x="1194.69" y="177.58"/>
<use href="#mx" x="1246.08" y="177.58"/>
<use href="#mo" x="1297.47" y="177.58"/>
<use href="#mx" x="1348.86" y="177.58"/>
<use href="#mx" x="1400.25" y="177.58"/>
<use href="#mx" x="1451.64" y="177.58"/>
<use href="#mx" x="1503.03" y="177.58"/>
<text x="1083.00" y="184.78" font-size="20.4" text-anchor="end">36</text>
<line x1="1088.80" y1="177.58" x2="1096.60" y2="177.58" stroke="#1a1a1a" stroke-width="2.5" stroke-linecap="butt"/>
<use href="#mx" x="1143.30" y="194.07"/>
<use href="#mx" x="1194.69" y="194.07"/>
<use href="#mx" x="1246.08" y="194.07"/>
<use href="#mx" x="1297.47" y="194.07"/>
<use href="#mx" x="1348.86" y="194.07"/>
<use href="#mx" x="1400.25" y="194.07"/>
<use href="#mx" x="1451.64" y="194.07"/>
<use href="#mx" x="1503.03" y="194.07"/>
<text x="1083.00" y="201.27" font-size="20.4" text-anchor="end">34</text>
<line x1="1088.80" y1="194.07" x2="1096.60" y2="194.07" stroke="#1a1a1a" stroke-width="2.5" stroke-linecap="butt"/>
<use href="#mx" x="1143.30" y="210.56"/>
<use href="#mx" x="1194.69" y="210.56"/>
<use href="#mo" x="1246.08" y="210.56"/>
<use href="#mx" x="1297.47" y="210.56"/>
<use href="#mo" x="1348.86" y="210.56"/>
<use href="#mx" x="1400.25" y="210.56"/>
<use href="#mx" x="1451.64" y="210.56"/>
<use href="#mx" x="1503.03" y="210.56"/>
<text x="1083.00" y="217.76" font-size="20.4" text-anchor="end">31</text>
<line x1="1088.80" y1="210.56" x2="1096.60" y2="210.56" stroke="#1a1a1a" stroke-width="2.5" stroke-linecap="butt"/>
<use href="#mx" x="1143.30" y="227.05"/>
<use href="#mx" x="1194.69" y="227.05"/>
<use href="#mx" x="1246.08" y="227.05"/>
<use href="#mx" x="1297.47" y="227.05"/>
<use href="#mx" x="1348.86" y="227.05"/>
<use href="#mx" x="1400.25" y="227.05"/>
<use href="#mx" x="1451.64" y="227.05"/>
<use href="#mx" x="1503.03" y="227.05"/>
<text x="1083.00" y="234.25" font-size="20.4" text-anchor="end">25</text>
<line x1="1088.80" y1="227.05" x2="1096.60" y2="227.05" stroke="#1a1a1a" stroke-width="2.5" stroke-linecap="butt"/>
<use href="#mo" x="1143.30" y="243.54"/>
<use href="#mo" x="1194.69" y="243.54"/>
<use href="#mx" x="1246.08" y="243.54"/>
<use href="#mo" x="1297.47" y="243.54"/>
<use href="#mx" x="1348.86" y="243.54"/>
<use href="#mo" x="1400.25" y="243.54"/>
<use href="#mx" x="1451.64" y="243.54"/>
<use href="#mo" x="1503.03" y="243.54"/>
<text x="1083.00" y="250.74" font-size="20.4" text-anchor="end">18</text>
<line x1="1088.80" y1="243.54" x2="1096.60" y2="243.54" stroke="#1a1a1a" stroke-width="2.5" stroke-linecap="butt"/>
<use href="#mx" x="1143.30" y="260.03"/>
<use href="#mx" x="1194.69" y="260.03"/>
<use href="#mx" x="1246.08" y="260.03"/>
<use href="#mx" x="1297.47" y="260.03"/>
<use href="#mx" x="1348.86" y="260.03"/>
<use href="#mx" x="1400.25" y="260.03"/>
<use href="#mx" x="1451.64" y="260.03"/>
<use href="#mx" x="1503.03" y="260.03"/>
<text x="1083.00" y="267.23" font-size="20.4" text-anchor="end">17</text>
<line x1="1088.80" y1="260.03" x2="1096.60" y2="260.03" stroke="#1a1a1a" stroke-width="2.5" stroke-linecap="butt"/>
<use href="#mx" x="1143.30" y="276.52"/>
<use href="#mx" x="1194.69" y="276.52"/>
<use href="#mx" x="1246.08" y="276.52"/>
<use href="#mx" x="1297.47" y="276.52"/>
<use href="#mx" x="1348.86" y="276.52"/>
<use href="#mo" x="1400.25" y="276.52"/>
<use href="#mx" x="1451.64" y="276.52"/>
<use href="#mx" x="1503.03" y="276.52"/>
<text x="1083.00" y="283.72" font-size="20.4" text-anchor="end">12</text>
<line x1="1088.80" y1="276.52" x2="1096.60" y2="276.52" stroke="#1a1a1a" stroke-width="2.5" stroke-linecap="butt"/>
<use href="#mx" x="1143.30" y="293.01"/>
<use href="#mx" x="1194.69" y="293.01"/>
<use href="#mx" x="1246.08" y="293.01"/>
<use href="#mo" x="1297.47" y="293.01"/>
<use href="#mx" x="1348.86" y="293.01"/>
<use href="#mx" x="1400.25" y="293.01"/>
<use href="#mx" x="1451.64" y="293.01"/>
<use href="#mx" x="1503.03" y="293.01"/>
<text x="1083.00" y="300.21" font-size="20.4" text-anchor="end">10</text>
<line x1="1088.80" y1="293.01" x2="1096.60" y2="293.01" stroke="#1a1a1a" stroke-width="2.5" stroke-linecap="butt"/>
<use href="#mx" x="1143.30" y="309.50"/>
<use href="#mo" x="1194.69" y="309.50"/>
<use href="#mo" x="1246.08" y="309.50"/>
<use href="#mx" x="1297.47" y="309.50"/>
<use href="#mx" x="1348.86" y="309.50"/>
<use href="#mx" x="1400.25" y="309.50"/>
<use href="#mx" x="1451.64" y="309.50"/>
<use href="#mx" x="1503.03" y="309.50"/>
<text x="1083.00" y="316.70" font-size="20.4" text-anchor="end">29</text>
<line x1="1088.80" y1="309.50" x2="1096.60" y2="309.50" stroke="#1a1a1a" stroke-width="2.5" stroke-linecap="butt"/>
<use href="#mo" x="1143.30" y="325.99"/>
<use href="#mx" x="1194.69" y="325.99"/>
<use href="#mx" x="1246.08" y="325.99"/>
<use href="#mx" x="1297.47" y="325.99"/>
<use href="#mx" x="1348.86" y="325.99"/>
<use href="#mx" x="1400.25" y="325.99"/>
<use href="#mx" x="1451.64" y="325.99"/>
<use href="#mo" x="1503.03" y="325.99"/>
<text x="1083.00" y="333.19" font-size="20.4" text-anchor="end">39</text>
<line x1="1088.80" y1="325.99" x2="1096.60" y2="325.99" stroke="#1a1a1a" stroke-width="2.5" stroke-linecap="butt"/>
<use href="#mo" x="1143.30" y="342.48"/>
<use href="#mx" x="1194.69" y="342.48"/>
<use href="#mx" x="1246.08" y="342.48"/>
<use href="#mo" x="1297.47" y="342.48"/>
<use href="#mx" x="1348.86" y="342.48"/>
<use href="#mx" x="1400.25" y="342.48"/>
<use href="#mx" x="1451.64" y="342.48"/>
<use href="#mx" x="1503.03" y="342.48"/>
<text x="1083.00" y="349.68" font-size="20.4" text-anchor="end">2</text>
<line x1="1088.80" y1="342.48" x2="1096.60" y2="342.48" stroke="#1a1a1a" stroke-width="2.5" stroke-linecap="butt"/>
<use href="#mx" x="1143.30" y="358.97"/>
<use href="#mx" x="1194.69" y="358.97"/>
<use href="#mx" x="1246.08" y="358.97"/>
<use href="#mx" x="1297.47" y="358.97"/>
<use href="#mx" x="1348.86" y="358.97"/>
<use href="#mx" x="1400.25" y="358.97"/>
<use href="#mx" x="1451.64" y="358.97"/>
<use href="#mx" x="1503.03" y="358.97"/>
<text x="1083.00" y="366.17" font-size="20.4" text-anchor="end">1</text>
<line x1="1088.80" y1="358.97" x2="1096.60" y2="358.97" stroke="#1a1a1a" stroke-width="2.5" stroke-linecap="butt"/>
<use href="#mx" x="1143.30" y="375.46"/>
<use href="#mx" x="1194.69" y="375.46"/>
<use href="#mx" x="1246.08" y="375.46"/>
<use href="#mx" x="1297.47" y="375.46"/>
<use href="#mx" x="1348.86" y="375.46"/>
<use href="#mx" x="1400.25" y="375.46"/>
<use href="#mx" x="1451.64" y="375.46"/>
<use href="#mx" x="1503.03" y="375.46"/>
<text x="1083.00" y="382.66" font-size="20.4" text-anchor="end">24</text>
<line x1="1088.80" y1="375.46" x2="1096.60" y2="375.46" stroke="#1a1a1a" stroke-width="2.5" stroke-linecap="butt"/>
<use href="#mx" x="1143.30" y="391.95"/>
<use href="#mx" x="1194.69" y="391.95"/>
<use href="#mx" x="1246.08" y="391.95"/>
<use href="#mx" x="1297.47" y="391.95"/>
<use href="#mx" x="1348.86" y="391.95"/>
<use href="#mx" x="1400.25" y="391.95"/>
<use href="#mx" x="1451.64" y="391.95"/>
<use href="#mx" x="1503.03" y="391.95"/>
<text x="1083.00" y="399.15" font-size="20.4" text-anchor="end">19</text>
<line x1="1088.80" y1="391.95" x2="1096.60" y2="391.95" stroke="#1a1a1a" stroke-width="2.5" stroke-linecap="butt"/>
<use href="#mo" x="1143.30" y="408.44"/>
<use href="#mo" x="1194.69" y="408.44"/>
<use href="#mx" x="1246.08" y="408.44"/>
<use href="#mo" x="1297.47" y="408.44"/>
<use href="#mx" x="1348.86" y="408.44"/>
<use href="#mx" x="1400.25" y="408.44"/>
<use href="#mx" x="1451.64" y="408.44"/>
<use href="#mx" x="1503.03" y="408.44"/>
<text x="1083.00" y="415.64" font-size="20.4" text-anchor="end">35</text>
<line x1="1088.80" y1="408.44" x2="1096.60" y2="408.44" stroke="#1a1a1a" stroke-width="2.5" stroke-linecap="butt"/>
<use href="#mx" x="1143.30" y="424.93"/>
<use href="#mx" x="1194.69" y="424.93"/>
<use href="#mo" x="1246.08" y="424.93"/>
<use href="#mx" x="1297.47" y="424.93"/>
<use href="#mx" x="1348.86" y="424.93"/>
<use href="#mx" x="1400.25" y="424.93"/>
<use href="#mx" x="1451.64" y="424.93"/>
<use href="#mx" x="1503.03" y="424.93"/>
<text x="1083.00" y="432.13" font-size="20.4" text-anchor="end">32</text>
<line x1="1088.80" y1="424.93" x2="1096.60" y2="424.93" stroke="#1a1a1a" stroke-width="2.5" stroke-linecap="butt"/>
<use href="#mx" x="1143.30" y="441.42"/>
<use href="#mx" x="1194.69" y="441.42"/>
<use href="#mx" x="1246.08" y="441.42"/>
<use href="#mx" x="1297.47" y="441.42"/>
<use href="#mx" x="1348.86" y="441.42"/>
<use href="#mx" x="1400.25" y="441.42"/>
<use href="#mx" x="1451.64" y="441.42"/>
<use href="#mx" x="1503.03" y="441.42"/>
<text x="1083.00" y="448.62" font-size="20.4" text-anchor="end">26</text>
<line x1="1088.80" y1="441.42" x2="1096.60" y2="441.42" stroke="#1a1a1a" stroke-width="2.5" stroke-linecap="butt"/>
<use href="#mx" x="1143.30" y="457.91"/>
<use href="#mx" x="1194.69" y="457.91"/>
<use href="#mo" x="1246.08" y="457.91"/>
<use href="#mo" x="1297.47" y="457.91"/>
<use href="#mx" x="1348.86" y="457.91"/>
<use href="#mx" x="1400.25" y="457.91"/>
<use href="#mo" x="1451.64" y="457.91"/>
<use href="#mo" x="1503.03" y="457.91"/>
<text x="1083.00" y="465.11" font-size="20.4" text-anchor="end">4</text>
<line x1="1088.80" y1="457.91" x2="1096.60" y2="457.91" stroke="#1a1a1a" stroke-width="2.5" stroke-linecap="butt"/>
<use href="#mo" x="1143.30" y="474.40"/>
<use href="#mx" x="1194.69" y="474.40"/>
<use href="#mx" x="1246.08" y="474.40"/>
<use href="#mx" x="1297.47" y="474.40"/>
<use href="#mx" x="1348.86" y="474.40"/>
<use href="#mx" x="1400.25" y="474.40"/>
<use href="#mx" x="1451.64" y="474.40"/>
<use href="#mx" x="1503.03" y="474.40"/>
<text x="1083.00" y="481.60" font-size="20.4" text-anchor="end">27</text>
<line x1="1088.80" y1="474.40" x2="1096.60" y2="474.40" stroke="#1a1a1a" stroke-width="2.5" stroke-linecap="butt"/>
<use href="#mx" x="1143.30" y="490.89"/>
<use href="#mx" x="1194.69" y="490.89"/>
<use href="#mx" x="1246.08" y="490.89"/>
<use href="#mx" x="1297.47" y="490.89"/>
<use href="#mx" x="1348.86" y="490.89"/>
<use href="#mx" x="1400.25" y="490.89"/>
<use href="#mo" x="1451.64" y="490.89"/>
<use href="#mx" x="1503.03" y="490.89"/>
<text x="1083.00" y="498.09" font-size="20.4" text-anchor="end">20</text>
<line x1="1088.80" y1="490.89" x2="1096.60" y2="490.89" stroke="#1a1a1a" stroke-width="2.5" stroke-linecap="butt"/>
<use href="#mx" x="1143.30" y="507.38"/>
<use href="#mx" x="1194.69" y="507.38"/>
<use href="#mx" x="1246.08" y="507.38"/>
<use href="#mx" x="1297.47" y="507.38"/>
<use href="#mx" x="1348.86" y="507.38"/>
<use href="#mx" x="1400.25" y="507.38"/>
<use href="#mx" x="1451.64" y="507.38"/>
<use href="#mo" x="1503.03" y="507.38"/>
<text x="1083.00" y="514.58" font-size="20.4" text-anchor="end">14</text>
<line x1="1088.80" y1="507.38" x2="1096.60" y2="507.38" stroke="#1a1a1a" stroke-width="2.5" stroke-linecap="butt"/>
<use href="#mx" x="1143.30" y="523.87"/>
<use href="#mx" x="1194.69" y="523.87"/>
<use href="#mx" x="1246.08" y="523.87"/>
<use href="#mx" x="1297.47" y="523.87"/>
<use href="#mx" x="1348.86" y="523.87"/>
<use href="#mx" x="1400.25" y="523.87"/>
<use href="#mx" x="1451.64" y="523.87"/>
<use href="#mx" x="1503.03" y="523.87"/>
<text x="1083.00" y="531.07" font-size="20.4" text-anchor="end">7</text>
<line x1="1088.80" y1="523.87" x2="1096.60" y2="523.87" stroke="#1a1a1a" stroke-width="2.5" stroke-linecap="butt"/>
<use href="#mx" x="1143.30" y="540.36"/>
<use href="#mx" x="1194.69" y="540.36"/>
<use href="#mx" x="1246.08" y="540.36"/>
<use href="#mx" x="1297.47" y="540.36"/>
<use href="#mx" x="1348.86" y="540.36"/>
<use href="#mx" x="1400.25" y="540.36"/>
<use href="#mx" x="1451.64" y="540.36"/>
<use href="#mx" x="1503.03" y="540.36"/>
<text x="1083.00" y="547.56" font-size="20.4" text-anchor="end">38</text>
<line x1="1088.80" y1="540.36" x2="1096.60" y2="540.36" stroke="#1a1a1a" stroke-width="2.5" stroke-linecap="butt"/>
<use href="#mx" x="1143.30" y="556.85"/>
<use href="#mx" x="1194.69" y="556.85"/>
<use href="#mx" x="1246.08" y="556.85"/>
<use href="#mx" x="1297.47" y="556.85"/>
<use href="#mx" x="1348.86" y="556.85"/>
<use href="#mx" x="1400.25" y="556.85"/>
<use href="#mx" x="1451.64" y="556.85"/>
<use href="#mx" x="1503.03" y="556.85"/>
<text x="1083.00" y="564.05" font-size="20.4" text-anchor="end">33</text>
<line x1="1088.80" y1="556.85" x2="1096.60" y2="556.85" stroke="#1a1a1a" stroke-width="2.5" stroke-linecap="butt"/>
<use href="#mx" x="1143.30" y="573.34"/>
<use href="#mx" x="1194.69" y="573.34"/>
<use href="#mo" x="1246.08" y="573.34"/>
<use href="#mx" x="1297.47" y="573.34"/>
<use href="#mx" x="1348.86" y="573.34"/>
<use href="#mx" x="1400.25" y="573.34"/>
<use href="#mx" x="1451.64" y="573.34"/>
<use href="#mx" x="1503.03" y="573.34"/>
<text x="1083.00" y="580.54" font-size="20.4" text-anchor="end">23</text>
<line x1="1088.80" y1="573.34" x2="1096.60" y2="573.34" stroke="#1a1a1a" stroke-width="2.5" stroke-linecap="butt"/>
<use href="#mx" x="1143.30" y="589.83"/>
<use href="#mx" x="1194.69" y="589.83"/>
<use href="#mx" x="1246.08" y="589.83"/>
<use href="#mx" x="1297.47" y="589.83"/>
<use href="#mx" x="1348.86" y="589.83"/>
<use href="#mx" x="1400.25" y="589.83"/>
<use href="#mx" x="1451.64" y="589.83"/>
<use href="#mx" x="1503.03" y="589.83"/>
<text x="1083.00" y="597.03" font-size="20.4" text-anchor="end">22</text>
<line x1="1088.80" y1="589.83" x2="1096.60" y2="589.83" stroke="#1a1a1a" stroke-width="2.5" stroke-linecap="butt"/>
<use href="#mo" x="1143.30" y="606.32"/>
<use href="#mo" x="1194.69" y="606.32"/>
<use href="#mx" x="1246.08" y="606.32"/>
<use href="#mo" x="1297.47" y="606.32"/>
<use href="#mx" x="1348.86" y="606.32"/>
<use href="#mo" x="1400.25" y="606.32"/>
<use href="#mo" x="1451.64" y="606.32"/>
<use href="#mx" x="1503.03" y="606.32"/>
<text x="1083.00" y="613.52" font-size="20.4" text-anchor="end">21</text>
<line x1="1088.80" y1="606.32" x2="1096.60" y2="606.32" stroke="#1a1a1a" stroke-width="2.5" stroke-linecap="butt"/>
<use href="#mx" x="1143.30" y="622.81"/>
<use href="#mx" x="1194.69" y="622.81"/>
<use href="#mx" x="1246.08" y="622.81"/>
<use href="#mx" x="1297.47" y="622.81"/>
<use href="#mx" x="1348.86" y="622.81"/>
<use href="#mx" x="1400.25" y="622.81"/>
<use href="#mx" x="1451.64" y="622.81"/>
<use href="#mx" x="1503.03" y="622.81"/>
<text x="1083.00" y="630.01" font-size="20.4" text-anchor="end">15</text>
<line x1="1088.80" y1="622.81" x2="1096.60" y2="622.81" stroke="#1a1a1a" stroke-width="2.5" stroke-linecap="butt"/>
<use href="#mx" x="1143.30" y="639.30"/>
<use href="#mx" x="1194.69" y="639.30"/>
<use href="#mo" x="1246.08" y="639.30"/>
<use href="#mx" x="1297.47" y="639.30"/>
<use href="#mo" x="1348.86" y="639.30"/>
<use href="#mx" x="1400.25" y="639.30"/>
<use href="#mx" x="1451.64" y="639.30"/>
<use href="#mx" x="1503.03" y="639.30"/>
<text x="1083.00" y="646.50" font-size="20.4" text-anchor="end">13</text>
<line x1="1088.80" y1="639.30" x2="1096.60" y2="639.30" stroke="#1a1a1a" stroke-width="2.5" stroke-linecap="butt"/>
<use href="#mx" x="1143.30" y="655.79"/>
<use href="#mx" x="1194.69" y="655.79"/>
<use href="#mx" x="1246.08" y="655.79"/>
<use href="#mx" x="1297.47" y="655.79"/>
<use href="#mx" x="1348.86" y="655.79"/>
<use href="#mx" x="1400.25" y="655.79"/>
<use href="#mx" x="1451.64" y="655.79"/>
<use href="#mx" x="1503.03" y="655.79"/>
<text x="1083.00" y="662.99" font-size="20.4" text-anchor="end">6</text>
<line x1="1088.80" y1="655.79" x2="1096.60" y2="655.79" stroke="#1a1a1a" stroke-width="2.5" stroke-linecap="butt"/>
<use href="#mx" x="1143.30" y="672.28"/>
<use href="#mx" x="1194.69" y="672.28"/>
<use href="#mx" x="1246.08" y="672.28"/>
<use href="#mx" x="1297.47" y="672.28"/>
<use href="#mx" x="1348.86" y="672.28"/>
<use href="#mx" x="1400.25" y="672.28"/>
<use href="#mx" x="1451.64" y="672.28"/>
<use href="#mx" x="1503.03" y="672.28"/>
<text x="1083.00" y="679.48" font-size="20.4" text-anchor="end">3</text>
<line x1="1088.80" y1="672.28" x2="1096.60" y2="672.28" stroke="#1a1a1a" stroke-width="2.5" stroke-linecap="butt"/>
<use href="#mx" x="1143.30" y="688.77"/>
<use href="#mx" x="1194.69" y="688.77"/>
<use href="#mx" x="1246.08" y="688.77"/>
<use href="#mx" x="1297.47" y="688.77"/>
<use href="#mx" x="1348.86" y="688.77"/>
<use href="#mx" x="1400.25" y="688.77"/>
<use href="#mx" x="1451.64" y="688.77"/>
<use href="#mx" x="1503.03" y="688.77"/>
<text x="1083.00" y="695.97" font-size="20.4" text-anchor="end">37</text>
<line x1="1088.80" y1="688.77" x2="1096.60" y2="688.77" stroke="#1a1a1a" stroke-width="2.5" stroke-linecap="butt"/>
<use href="#mx" x="1143.30" y="705.26"/>
<use href="#mo" x="1194.69" y="705.26"/>
<use href="#mx" x="1246.08" y="705.26"/>
<use href="#mo" x="1297.47" y="705.26"/>
<use href="#mo" x="1348.86" y="705.26"/>
<use href="#mx" x="1400.25" y="705.26"/>
<use href="#mx" x="1451.64" y="705.26"/>
<use href="#mx" x="1503.03" y="705.26"/>
<text x="1083.00" y="712.46" font-size="20.4" text-anchor="end">30</text>
<line x1="1088.80" y1="705.26" x2="1096.60" y2="705.26" stroke="#1a1a1a" stroke-width="2.5" stroke-linecap="butt"/>
<use href="#mo" x="1143.30" y="721.75"/>
<use href="#mx" x="1194.69" y="721.75"/>
<use href="#mx" x="1246.08" y="721.75"/>
<use href="#mo" x="1297.47" y="721.75"/>
<use href="#mo" x="1348.86" y="721.75"/>
<use href="#mx" x="1400.25" y="721.75"/>
<use href="#mx" x="1451.64" y="721.75"/>
<use href="#mo" x="1503.03" y="721.75"/>
<text x="1083.00" y="728.95" font-size="20.4" text-anchor="end">28</text>
<line x1="1088.80" y1="721.75" x2="1096.60" y2="721.75" stroke="#1a1a1a" stroke-width="2.5" stroke-linecap="butt"/>
<use href="#mx" x="1143.30" y="738.24"/>
<use href="#mo" x="1194.69" y="738.24"/>
<use href="#mx" x="1246.08" y="738.24"/>
<use href="#mx" x="1297.47" y="738.24"/>
<use href="#mx" x="1348.86" y="738.24"/>
<use href="#mx" x="1400.25" y="738.24"/>
<use href="#mx" x="1451.64" y="738.24"/>
<use href="#mx" x="1503.03" y="738.24"/>
<text x="1083.00" y="745.44" font-size="20.4" text-anchor="end">16</text>
<line x1="1088.80" y1="738.24" x2="1096.60" y2="738.24" stroke="#1a1a1a" stroke-width="2.5" stroke-linecap="butt"/>
<use href="#mx" x="1143.30" y="754.73"/>
<use href="#mx" x="1194.69" y="754.73"/>
<use href="#mx" x="1246.08" y="754.73"/>
<use href="#mx" x="1297.47" y="754.73"/>
<use href="#mx" x="1348.86" y="754.73"/>
<use href="#mx" x="1400.25" y="754.73"/>
<use href="#mx" x="1451.64" y="754.73"/>
<use href="#mx" x="1503.03" y="754.73"/>
<text x="1083.00" y="761.93" font-size="20.4" text-anchor="end">11</text>
<line x1="1088.80" y1="754.73" x2="1096.60" y2="754.73" stroke="#1a1a1a" stroke-width="2.5" stroke-linecap="butt"/>
<use href="#mx" x="1143.30" y="771.22"/>
<use href="#mx" x="1194.69" y="771.22"/>
<use href="#mx" x="1246.08" y="771.22"/>
<use href="#mx" x="1297.47" y="771.22"/>
<use href="#mx" x="1348.86" y="771.22"/>
<use href="#mx" x="1400.25" y="771.22"/>
<use href="#mx" x="1451.64" y="771.22"/>
<use href="#mx" x="1503.03" y="771.22"/>
<text x="1083.00" y="778.42" font-size="20.4" text-anchor="end">9</text>
<line x1="1088.80" y1="771.22" x2="1096.60" y2="771.22" stroke="#1a1a1a" stroke-width="2.5" stroke-linecap="butt"/>
<use href="#mx" x="1143.30" y="787.71"/>
<use href="#mo" x="1194.69" y="787.71"/>
<use href="#mx" x="1246.08" y="787.71"/>
<use href="#mo" x="1297.47" y="787.71"/>
<use href="#mx" x="1348.86" y="787.71"/>
<use href="#mo" x="1400.25" y="787.71"/>
<use href="#mx" x="1451.64" y="787.71"/>
<use href="#mo" x="1503.03" y="787.71"/>
<text x="1083.00" y="794.91" font-size="20.4" text-anchor="end">8</text>
<line x1="1088.80" y1="787.71" x2="1096.60" y2="787.71" stroke="#1a1a1a" stroke-width="2.5" stroke-linecap="butt"/>
<use href="#mo" x="1143.30" y="804.20"/>
<use href="#mx" x="1194.69" y="804.20"/>
<use href="#mx" x="1246.08" y="804.20"/>
<use href="#mx" x="1297.47" y="804.20"/>
<use href="#mx" x="1348.86" y="804.20"/>
<use href="#mx" x="1400.25" y="804.20"/>
<use href="#mx" x="1451.64" y="804.20"/>
<use href="#mx" x="1503.03" y="804.20"/>
<text x="1083.00" y="811.40" font-size="20.4" text-anchor="end">5</text>
<line x1="1088.80" y1="804.20" x2="1096.60" y2="804.20" stroke="#1a1a1a" stroke-width="2.5" stroke-linecap="butt"/>
<line x1="1143.30" y1="814.20" x2="1143.30" y2="821.60" stroke="#333" stroke-width="2.5" stroke-linecap="butt"/>
<text x="1135.57" y="847.00" font-size="26.5" fill="#4d4d4d">1</text>
<line x1="1194.69" y1="814.20" x2="1194.69" y2="821.60" stroke="#333" stroke-width="2.5" stroke-linecap="butt"/>
<text x="1187.32" y="847.00" font-size="26.5" fill="#4d4d4d">2</text>
<line x1="1246.08" y1="814.20" x2="1246.08" y2="821.60" stroke="#333" stroke-width="2.5" stroke-linecap="butt"/>
<text x="1238.79" y="847.00" font-size="26.5" fill="#4d4d4d">3</text>
<line x1="1297.47" y1="814.20" x2="1297.47" y2="821.60" stroke="#333" stroke-width="2.5" stroke-linecap="butt"/>
<text x="1290.19" y="847.00" font-size="26.5" fill="#4d4d4d">4</text>
<line x1="1348.86" y1="814.20" x2="1348.86" y2="821.60" stroke="#333" stroke-width="2.5" stroke-linecap="butt"/>
<text x="1341.52" y="847.00" font-size="26.5" fill="#4d4d4d">5</text>
<line x1="1400.25" y1="814.20" x2="1400.25" y2="821.60" stroke="#333" stroke-width="2.5" stroke-linecap="butt"/>
<text x="1392.79" y="847.00" font-size="26.5" fill="#4d4d4d">6</text>
<line x1="1451.64" y1="814.20" x2="1451.64" y2="821.60" stroke="#333" stroke-width="2.5" stroke-linecap="butt"/>
<text x="1444.26" y="847.00" font-size="26.5" fill="#4d4d4d">7</text>
<line x1="1503.03" y1="814.20" x2="1503.03" y2="821.60" stroke="#333" stroke-width="2.5" stroke-linecap="butt"/>
<text x="1495.66" y="847.00" font-size="26.5" fill="#4d4d4d">8</text>
<text x="664.97" y="884.60" font-size="35.6" font-weight="bold" textLength="251.16" lengthAdjust="spacingAndGlyphs">M−trial number</text>
<text x="1185.07" y="884.80" font-size="35.6" font-weight="bold" textLength="251.06" lengthAdjust="spacingAndGlyphs">M−trial number</text>
<text x="524.00" y="556.41" font-size="35.9" font-weight="bold" textLength="167.42" lengthAdjust="spacingAndGlyphs" transform="rotate(-90 524.00 556.41)">Subject Id</text>
<text x="673.77" y="930.40" font-size="30" font-weight="bold" textLength="92.98" lengthAdjust="spacingAndGlyphs">Report</text>
<path d="M782.8,918.3L794.6,930.1M782.8,930.1L794.6,918.3" stroke="#a01b1e" stroke-width="5.6" stroke-linecap="round"/>
<circle cx="789.2" cy="954.6" r="6.4" fill="none" stroke="#55a0a2" stroke-width="4.9"/>
<text x="805.01" y="932.70" font-size="29.5" textLength="100.40" lengthAdjust="spacingAndGlyphs">Present</text>
<text x="804.74" y="962.50" font-size="29.5" textLength="89.67" lengthAdjust="spacingAndGlyphs">Absent</text>
</svg>
</body></html>
